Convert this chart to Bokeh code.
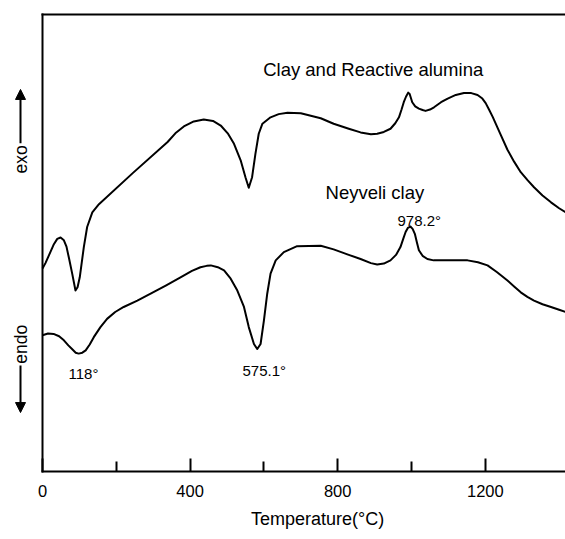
import numpy as np
from bokeh.plotting import figure
from bokeh.models import Range1d, FixedTicker, LinearAxis, Label, Arrow, NormalHead
from bokeh.embed import file_html
from bokeh.resources import INLINE

# Clay and Reactive alumina (upper trace), arbitrary DTA units
alumina_t = [0, 8, 18, 30, 40, 49, 58, 65, 72, 80.5, 89.4, 95, 101, 112, 121, 135, 153, 246, 339, 360, 383,
             410, 437, 462, 483, 502, 519, 537, 550, 559, 568, 577, 586, 596, 618, 640, 664, 700, 754, 789,
             830, 862, 890, 907, 925, 943, 956, 966, 973, 979, 985, 991, 995, 1002, 1010, 1020, 1030, 1038,
             1050, 1061, 1080, 1098, 1120, 1142, 1162, 1179, 1192, 1201, 1210, 1220, 1240, 1260, 1278,
             1296, 1315, 1332, 1355, 1378, 1400, 1418]
alumina_v = [44.4, 45.6, 47.4, 49.6, 50.9, 51.2, 50.6, 49.2, 46.6, 43.3, 39.6, 40.3, 42.5, 49.1, 53.5, 56.7,
             58.5, 65.4, 72.1, 74.0, 75.5, 76.6, 77.0, 76.7, 75.7, 74.0, 71.7, 68.1, 64.4, 62.1, 64.4, 69.5,
             73.9, 76.1, 77.5, 78.2, 78.5, 78.4, 77.3, 76.1, 75.0, 74.2, 73.8, 73.9, 74.3, 75.0, 76.2, 77.5,
             79.2, 80.8, 82.0, 82.9, 82.6, 80.8, 79.9, 79.4, 79.1, 78.9, 79.2, 79.7, 80.8, 81.6, 82.4, 82.8,
             82.8, 82.4, 81.6, 80.6, 79.2, 77.6, 74.0, 70.4, 67.8, 65.5, 63.7, 62.2, 60.4, 58.9, 57.6, 56.7]

# Neyveli clay (lower trace)
clay_t = [0, 15, 30, 45, 58, 70, 80, 90, 98, 108, 117, 128, 139, 157, 175, 197, 220, 257, 293, 334, 374,
          405, 428, 445, 456, 475, 492, 510, 528, 546, 559, 573, 582, 591, 600, 609, 618, 632, 654, 690,
          754, 789, 830, 862, 890, 907, 925, 943, 958, 970, 978, 984, 990, 997, 1003, 1009, 1015, 1020,
          1030, 1043, 1060, 1079, 1115, 1152, 1180, 1206, 1232, 1260, 1278, 1296, 1314, 1332, 1355, 1378,
          1400, 1418]
clay_v = [29.8, 30.2, 30.1, 29.6, 28.7, 27.6, 26.8, 26.0, 25.8, 26.0, 26.5, 27.8, 29.4, 31.6, 33.4, 34.9,
          36.0, 37.4, 38.9, 40.7, 42.5, 43.9, 44.7, 45.0, 45.1, 44.7, 44.0, 42.2, 39.6, 36.0, 31.6, 27.9,
          26.8, 27.9, 33.0, 38.9, 43.3, 46.2, 48.0, 49.3, 49.4, 48.6, 47.4, 46.5, 45.6, 45.3, 45.5, 46.2,
          47.4, 49.1, 51.0, 52.4, 53.3, 53.6, 53.1, 52.0, 50.0, 48.4, 47.2, 46.5, 46.2, 46.2, 46.2, 46.2,
          45.8, 45.1, 43.6, 41.8, 40.5, 39.2, 38.2, 37.4, 36.6, 36.0, 35.4, 34.9]

major_ticks = [0, 400, 800, 1200]
minor_ticks = [200, 600, 1000]

FONT = "Liberation Sans"

# the frame fills the whole canvas; the axes sit at fixed data locations inside it
p = figure(width=565, height=535, output_backend="svg", toolbar_location=None,
           x_range=Range1d(-113.8, 1417.3), y_range=Range1d(-14.0, 103.06),
           min_border=0, x_axis_location=None, y_axis_location=None)
p.outline_line_color = None
p.xgrid.visible = False
p.ygrid.visible = False
p.background_fill_color = "white"
p.border_fill_color = "white"

xaxis = LinearAxis(ticker=FixedTicker(ticks=major_ticks, minor_ticks=minor_ticks),
                   fixed_location=0, bounds=(0, 1500))
xaxis.axis_line_width = 2
xaxis.axis_line_color = "black"
xaxis.axis_line_cap = "square"
xaxis.major_tick_in = 13
xaxis.major_tick_out = 0
xaxis.minor_tick_in = 10
xaxis.minor_tick_out = 0
xaxis.major_tick_line_width = 2
xaxis.minor_tick_line_width = 2
xaxis.major_tick_line_color = "black"
xaxis.minor_tick_line_color = "black"
xaxis.major_label_text_font = FONT
xaxis.major_label_text_font_size = "16.5px"
xaxis.major_label_text_color = "black"
xaxis.major_label_standoff = 13
p.add_layout(xaxis, "below")

def frame_axis(loc, fixed, bounds):
    ax = LinearAxis(ticker=FixedTicker(ticks=[]), fixed_location=fixed, bounds=bounds)
    ax.axis_line_width = 2
    ax.axis_line_color = "black"
    ax.axis_line_cap = "square"
    ax.major_tick_in = 0
    ax.major_tick_out = 0
    ax.minor_tick_in = 0
    ax.minor_tick_out = 0
    ax.major_label_standoff = 0
    ax.major_label_text_font_size = "0px"
    p.add_layout(ax, loc)

frame_axis("left", 0, (0, 100))
frame_axis("above", 100, (0, 1500))

p.line(alumina_t, alumina_v, line_color="black", line_width=2, line_join="round")
p.line(clay_t, clay_v, line_color="black", line_width=2, line_join="round")

def lab(x, y, text, size, align="left", angle=0, baseline="alphabetic"):
    p.add_layout(Label(x=x, y=y, text=text, text_font=FONT, text_font_size=size,
                       text_color="black", text_align=align, text_baseline=baseline,
                       angle=angle))

lab(598, 88.0, "Clay and Reactive alumina", "18.5px")
lab(767, 61.1, "Neyveli clay", "18.5px")
lab(962, 54.9, "978.2°", "15px")
lab(70.5, 21.4, "118°", "15px")
lab(542, 22.1, "575.1°", "15px")
lab(745.3, -10.4, "Temperature(°C)", "18px", align="center")
lab(-56.9, 65.2, "exo", "17.5px", angle=np.pi / 2, baseline="middle")
lab(-56.9, 23.6, "endo", "17.5px", angle=np.pi / 2, baseline="middle")

p.add_layout(Arrow(x_start=-59.6, y_start=71.8, x_end=-59.6, y_end=83.6, line_width=2,
                   line_color="black",
                   end=NormalHead(size=10, fill_color="black", line_color="black", line_width=1)))
p.add_layout(Arrow(x_start=-59.6, y_start=23.2, x_end=-59.6, y_end=12.9, line_width=2,
                   line_color="black",
                   end=NormalHead(size=10, fill_color="black", line_color="black", line_width=1)))

open("out.html", "w").write(file_html(p, INLINE))
